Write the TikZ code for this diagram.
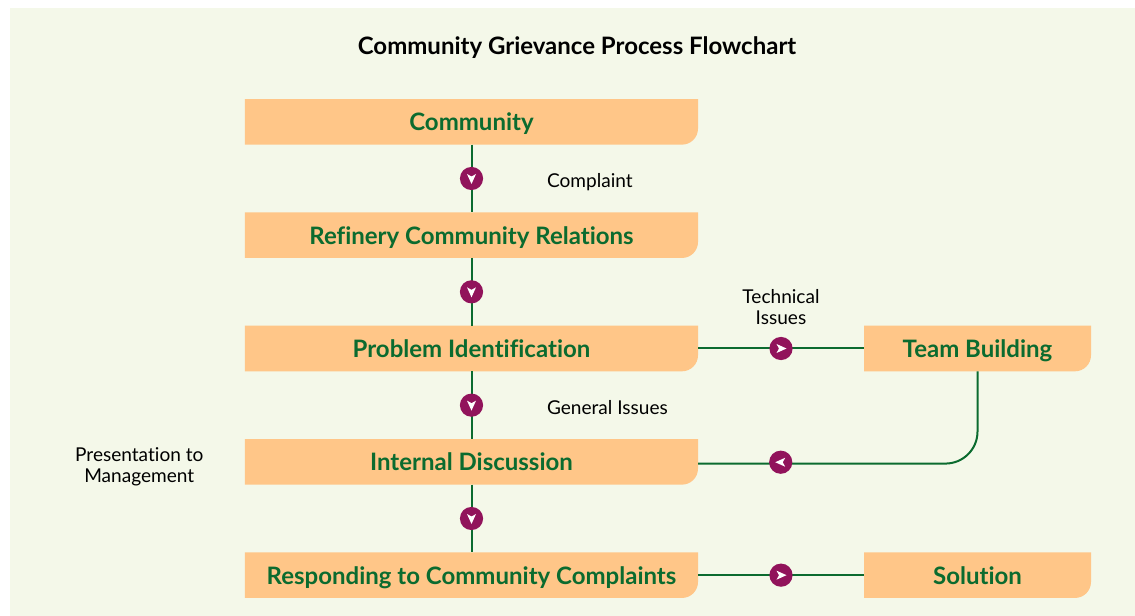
\documentclass[tikz,border=0pt]{standalone}
\usepackage{fontspec}
\setmainfont{Lato}[Ligatures=NoCommon]
\usetikzlibrary{matrix,positioning}
\definecolor{pagebg}{HTML}{F4F8E9}
\definecolor{boxfill}{HTML}{FFC688}
\definecolor{flowgreen}{HTML}{0B6B2F}
\definecolor{markpurple}{HTML}{91135B}
\tikzset{
	procbox/.style={minimum width=#1,minimum height=34.2pt,inner sep=0pt,outer sep=0pt,
		text height=13.4pt,text depth=0pt,text=flowgreen,font=\fontsize{18}{21}\selectfont\bfseries,
		path picture={\fill[boxfill] (path picture bounding box.north west)
			-- (path picture bounding box.north east)
			[rounded corners=12pt] -- (path picture bounding box.south east) [sharp corners]
			-- (path picture bounding box.south west) -- cycle;}},
	flowmark/.style={circle,minimum size=17.4pt,inner sep=0pt,fill=markpurple},
	flowline/.style={draw=flowgreen,line width=1.5pt},
	notetext/.style={inner sep=0pt,align=center,font=\fontsize{14.3}{15.7}\selectfont}
}
\begin{document}
\begin{tikzpicture}[x=.75pt,y=-.75pt]
	\useasboundingbox (0,0) rectangle (1135,616);
	\fill[pagebg] (10,8) rectangle (1135,616);
	\node (title) at (577,48) [font=\fontsize{18}{21}\selectfont\bfseries] {Community Grievance Process Flowchart};
	\matrix (flow) at (668,348.5) [matrix of nodes,row sep=50.8pt,column sep=124.5pt,
		column 1/.style={nodes={procbox=339.75pt}},column 2/.style={nodes={procbox=170.25pt}}]
	{
		Community & \\
		Refinery Community Relations & \\
		Problem Identification & Team Building\\
		Internal Discussion & \\
		Responding to Community Complaints & Solution\\};
	\path[flowline]
	(flow-1-1) edge node [flowmark] (mark1) {} (flow-2-1)
	(flow-2-1) edge node [flowmark] (mark2) {} (flow-3-1)
	(flow-3-1) edge node [flowmark] (mark3) {} (flow-4-1)
	(flow-4-1) edge node [flowmark] (mark4) {} (flow-5-1)
	(flow-3-1) edge node [flowmark] (mark5) {} (flow-3-2)
	(flow-5-1) edge node [flowmark] (mark6) {} (flow-5-2);
	\draw[flowline,rounded corners=24pt] (flow-3-2.south) |- node [flowmark,pos=.852,yshift=1pt] (mark7) {} ([yshift=-1.3pt]flow-4-1.east);
	\foreach \m/\a in {mark1/-90,mark2/-90,mark3/-90,mark4/-90,mark5/0,mark6/0,mark7/180}
		\fill[white,shift={(\m.center)},rotate=\a] (5.5,0) -- (-4.5,4.5) -- (-2,0) -- (-4.5,-4.5) -- cycle;
	\node[notetext,right=47pt of mark1,yshift=-2.5pt] (complaint) {Complaint};
	\node[notetext,right=47pt of mark3,yshift=-1.5pt] (general) {General Issues};
	\node[notetext,above=8pt of mark5] (technical) {Technical\\Issues};
	\node[notetext,left=31pt of flow-4-1,yshift=-3.5pt] (presentation) {Presentation to\\Management};
\end{tikzpicture}
\end{document}
